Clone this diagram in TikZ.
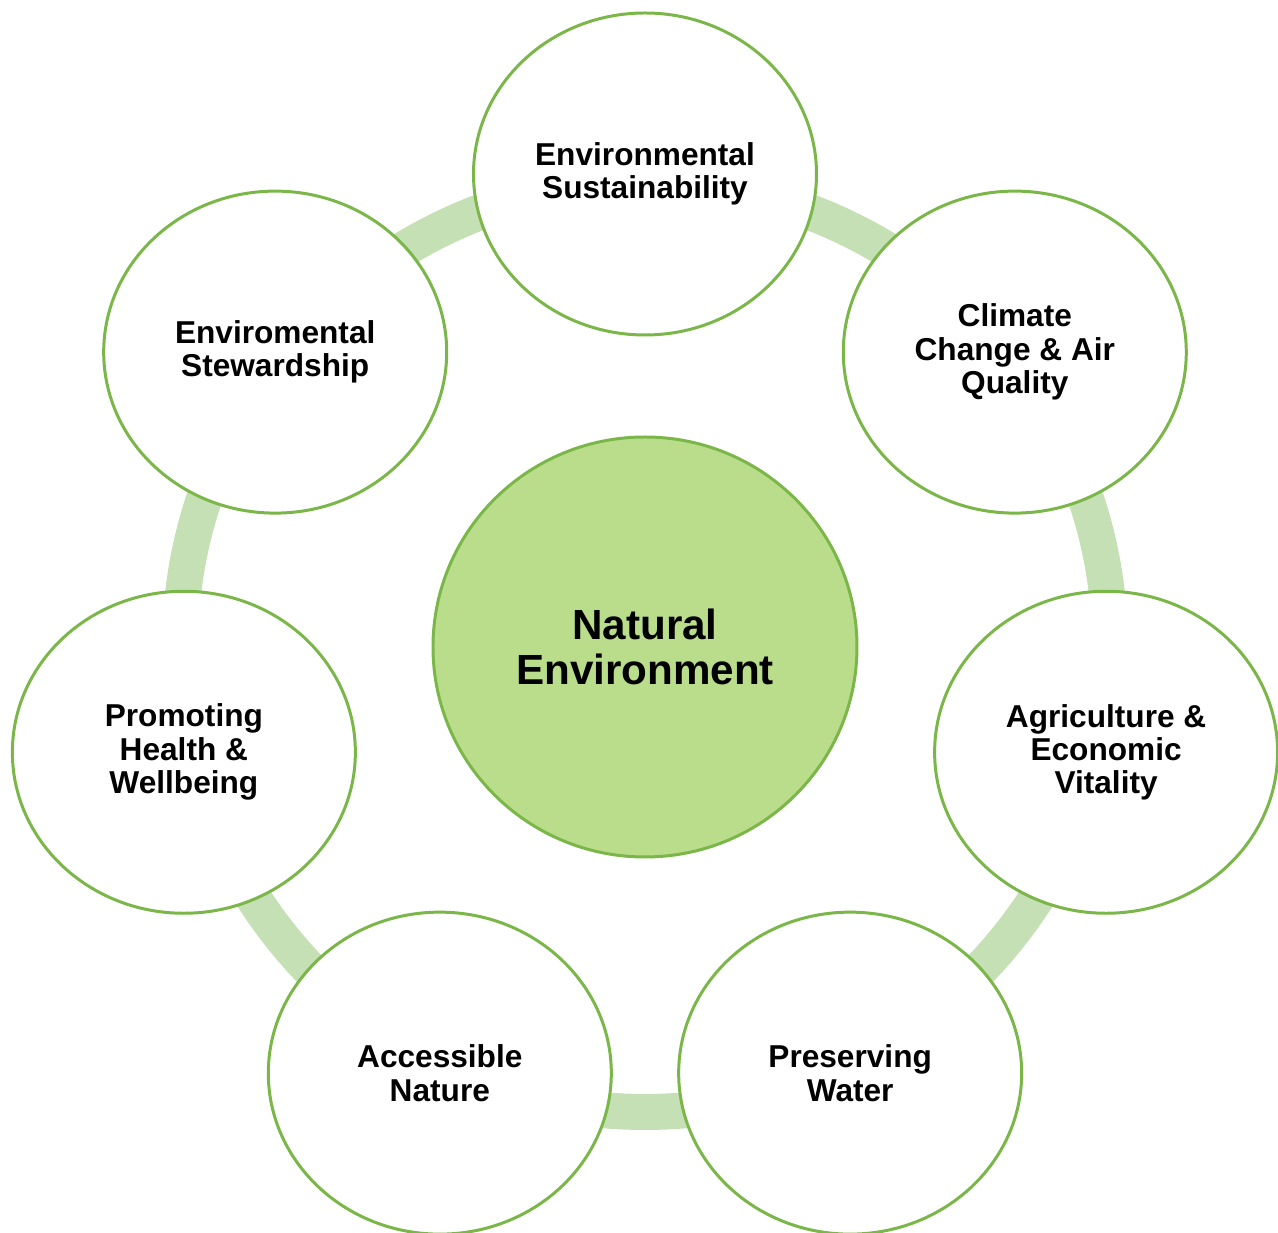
\documentclass[tikz,border=0pt]{standalone}
\usepackage{fontspec}
\setmainfont{Liberation Sans}
\usetikzlibrary{shapes.geometric}
\definecolor{ringgreen}{HTML}{C5E0B4}
\definecolor{edgegreen}{HTML}{7AB648}
\definecolor{hubgreen}{HTML}{BADD8C}
\begin{document}
\begin{tikzpicture}[line join=round,line cap=round,
	topic/.style={ellipse,draw=edgegreen,line width=1.7pt,fill=white,inner sep=0pt,
		minimum width=6.86cm,minimum height=6.44cm,align=center,
		font=\bfseries\fontsize{18}{19}\selectfont},
	hub/.style={ellipse,draw=edgegreen,line width=1.7pt,fill=hubgreen,inner sep=0pt,
		minimum width=8.48cm,minimum height=8.4cm,align=center,
		font=\bfseries\fontsize{24}{25.5}\selectfont}]
			\useasboundingbox (-12.9,-11.72) rectangle (12.66,12.94);
			\draw[ringgreen,line width=0.72cm] (0,0) circle (9.3);
			
			\node[hub] (nat) at (0,0) {Natural\\Environment};
			
			\node[topic] (sus) at (90:9.46) {Environmental\\Sustainability};
			\node[topic] (air) at (38.57:9.46) {Climate\\Change \& Air\\Quality};
			\node[topic] (agr) at (-12.86:9.46) {Agriculture \&\\Economic\\Vitality};
			\node[topic] (wat) at (-64.29:9.46) {Preserving\\Water};
			\node[topic] (acc) at (-115.71:9.46) {Accessible\\Nature};
			\node[topic] (hea) at (-167.14:9.46) {Promoting\\Health \&\\Wellbeing};
			\node[topic] (ste) at (141.43:9.46) {Enviromental\\Stewardship};
			
\end{tikzpicture}
\end{document}
